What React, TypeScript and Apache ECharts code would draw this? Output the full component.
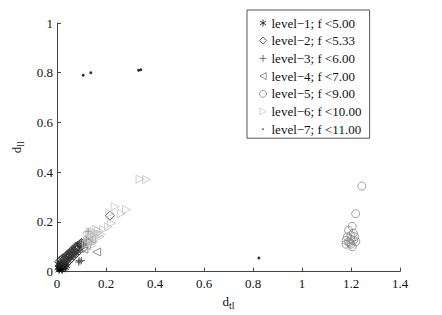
import React, { useEffect, useRef } from "react";
import * as echarts from "echarts";

const legendNames = [
  "level−1; f <5.00",
  "level−2; f <5.33",
  "level−3; f <6.00",
  "level−4; f <7.00",
  "level−5; f <9.00",
  "level−6; f <10.00",
  "level−7; f <11.00",
];

const level1 = [[0.01,0.01],[0.015,0.02],[0.02,0.015],[0.025,0.025],[0.012,0.03],[0.03,0.02],[0.008,0.005],[0.02,0.03],[0.028,0.012],[0.018,0.008],[0.035,0.03],[0.005,0.015],[0.015,0.035],[0.025,0.04],[0.035,0.015],[0.01,0.022],[0.022,0.005],[0.04,0.022],[0.006,0.03],[0.03,0.035],[0.012,0.014],[0.024,0.02],[0.032,0.026],[0.016,0.026],[0.008,0.018]];
const level2 = [[0.02,0.03],[0.03,0.04],[0.04,0.045],[0.045,0.055],[0.05,0.06],[0.06,0.065],[0.065,0.075],[0.07,0.08],[0.08,0.085],[0.085,0.09],[0.09,0.1],[0.1,0.105],[0.107,0.095],[0.03,0.05],[0.05,0.07],[0.075,0.09],[0.216,0.225],[0.04,0.035],[0.06,0.055],[0.015,0.045],[0.025,0.055],[0.035,0.06],[0.045,0.07],[0.055,0.08],[0.065,0.088],[0.075,0.1],[0.085,0.105],[0.095,0.112],[0.05,0.045],[0.07,0.065],[0.08,0.075],[0.09,0.085],[0.02,0.05],[0.04,0.065],[0.06,0.08],[0.1,0.115],[0.11,0.11],[0.01,0.04],[0.025,0.045],[0.035,0.05],[0.045,0.06],[0.055,0.068],[0.062,0.072],[0.072,0.083],[0.078,0.095],[0.088,0.096],[0.098,0.108],[0.03,0.03],[0.042,0.052],[0.052,0.064],[0.068,0.07],[0.058,0.074],[0.082,0.1]];
const level3 = [[0.094,0.041],[0.088,0.038],[0.1,0.045],[0.127,0.162],[0.11,0.11],[0.1,0.12],[0.12,0.13],[0.09,0.045],[0.118,0.118]];
const level4 = [[0.162,0.079],[0.127,0.122],[0.13,0.14],[0.14,0.13],[0.11,0.09],[0.12,0.105]];
const level5 = [[1.244,0.344],[1.219,0.233],[1.205,0.182],[1.19,0.166],[1.2,0.13],[1.19,0.12],[1.21,0.125],[1.18,0.11],[1.2,0.11],[1.215,0.14],[1.185,0.14],[1.2,0.145],[1.205,0.1],[1.22,0.12],[1.195,0.115],[1.21,0.155],[1.18,0.125]];
const level6 = [[0.339,0.372],[0.366,0.37],[0.237,0.261],[0.284,0.249],[0.264,0.234],[0.216,0.234],[0.223,0.195],[0.21,0.18],[0.14,0.15],[0.15,0.16],[0.16,0.14],[0.17,0.165],[0.13,0.13],[0.18,0.15],[0.15,0.12],[0.12,0.11],[0.19,0.17],[0.145,0.105],[0.135,0.16],[0.155,0.145],[0.165,0.155],[0.14,0.125],[0.125,0.145],[0.175,0.14],[0.16,0.17],[0.13,0.115]];
const level7 = [[0.107,0.79],[0.138,0.8],[0.333,0.81],[0.342,0.812],[0.824,0.055],[0.01,0.005],[0.02,0.01]];

const FONT = "Liberation Serif";

const SYM_ASTERISK = "path://M5,0L5,10M0.7,2.5L9.3,7.5M0.7,7.5L9.3,2.5";
const SYM_PLUS = "path://M5,0L5,10M0,5L10,5";
const SYM_TRI_LEFT = "path://M0,5L9,0L9,10Z";
const SYM_TRI_RIGHT = "path://M0,0L9,5L0,10Z";
const SYM_DOT_LEGEND = "path://M0,0M10,10M6.2,5L5.85,5.85L5,6.2L4.15,5.85L3.8,5L4.15,4.15L5,3.8L5.85,4.15Z";

export default function App() {
  const ref = useRef<HTMLDivElement>(null);
  useEffect(() => {
    if (!ref.current) return;
    const chart = echarts.init(ref.current, undefined, { renderer: "svg" });
    const mk = (name: string, data: number[][], symbol: string, size: number, color: string, filled = false) => ({
      name,
      type: "scatter",
      data,
      symbol,
      symbolSize: size,
      itemStyle: filled
        ? { color, borderWidth: 0 }
        : { color: "rgba(0,0,0,0)", borderColor: color, borderWidth: 1 },
      emphasis: { disabled: true },
    });
    const legendIcons = [SYM_ASTERISK, "diamond", SYM_PLUS, SYM_TRI_LEFT, "circle", SYM_TRI_RIGHT, SYM_DOT_LEGEND];
    chart.setOption({
      animation: false,
      backgroundColor: "#fff",
      textStyle: { fontFamily: FONT },
      grid: { left: 57, top: 23, right: 42, bottom: 39 },
      xAxis: {
        type: "value",
        min: 0,
        max: 1.4,
        interval: 0.2,
        splitLine: { show: false },
        axisLine: { show: true, lineStyle: { color: "#444", width: 1 } },
        axisTick: { show: true, inside: true, length: 4, lineStyle: { color: "#444" } },
        axisLabel: { color: "#111", fontSize: 13, fontFamily: FONT, margin: 5 },
        name: "{d|d}{s|tl}",
        nameLocation: "middle",
        nameGap: 20,
        nameTextStyle: {
          rich: {
            d: { fontSize: 13, fontFamily: FONT, color: "#111" },
            s: { fontSize: 10, fontFamily: FONT, color: "#111", padding: [8, 0, 0, 0] },
          },
        },
      },
      yAxis: {
        type: "value",
        min: 0,
        max: 1,
        interval: 0.2,
        splitLine: { show: false },
        axisLine: { show: true, lineStyle: { color: "#444", width: 1 } },
        axisTick: { show: true, inside: true, length: 4, lineStyle: { color: "#444" } },
        axisLabel: { color: "#111", fontSize: 13, fontFamily: FONT, margin: 4 },
        name: "{d|d}{s|ll}",
        nameLocation: "middle",
        nameGap: 28,
        nameRotate: 90,
        nameTextStyle: {
          rich: {
            d: { fontSize: 13, fontFamily: FONT, color: "#111" },
            s: { fontSize: 10, fontFamily: FONT, color: "#111", padding: [8, 0, 0, 0] },
          },
        },
      },
      legend: {
        orient: "vertical",
        left: 247,
        top: 10,
        padding: [6, 8, 2, 12],
        itemGap: 3.7,
        itemWidth: 7,
        itemHeight: 7,
        borderColor: "#555",
        borderWidth: 1,
        backgroundColor: "#fff",
        itemStyle: { borderWidth: 1 },
        textStyle: { fontFamily: FONT, fontSize: 13, color: "#111", lineHeight: 14 },
        data: legendNames.map((n, i) => ({ name: n, icon: legendIcons[i] })),
      },
      series: [
        mk(legendNames[0], level1, SYM_ASTERISK, 7, "#111"),
        mk(legendNames[1], level2, "diamond", 9, "#333"),
        mk(legendNames[2], level3, SYM_PLUS, 7, "#555"),
        mk(legendNames[3], level4, SYM_TRI_LEFT, 8, "#777"),
        mk(legendNames[4], level5, "circle", 8, "#888"),
        mk(legendNames[5], level6, SYM_TRI_RIGHT, 8, "#c4c4c4"),
        mk(legendNames[6], level7, "circle", 3, "#000", true),
      ],
    });
    return () => chart.dispose();
  }, []);
  return (
    <div
      ref={ref}
      style={{ position: "fixed", left: 0, top: 0, width: 442, height: 315, background: "#fff" }}
    />
  );
}
